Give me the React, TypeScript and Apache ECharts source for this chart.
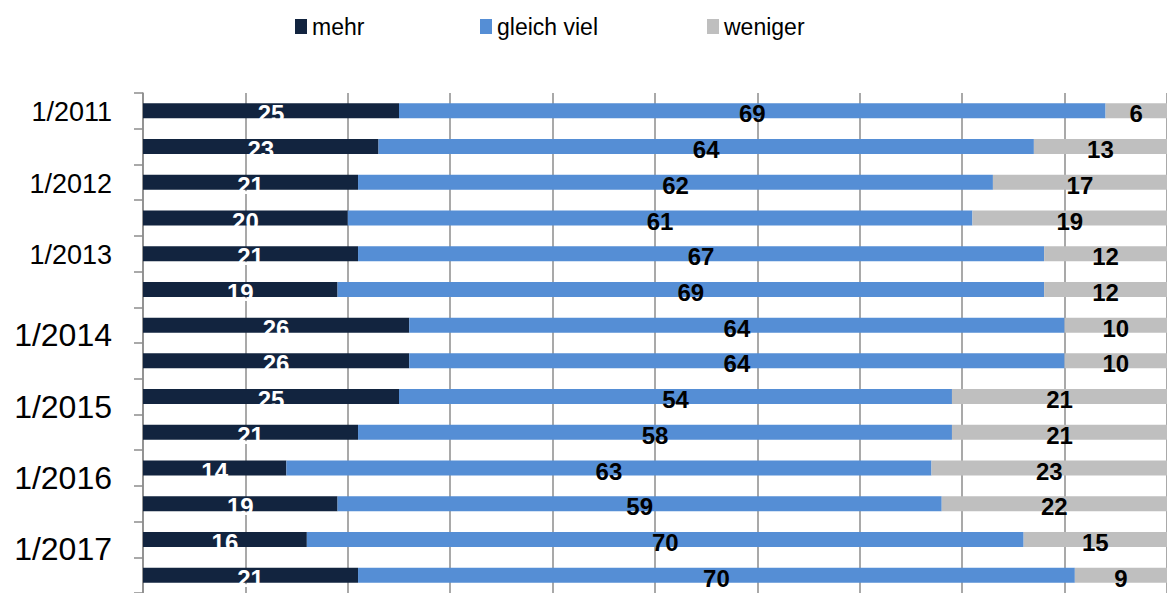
import React, { useEffect, useRef } from "react";
import * as echarts from "echarts";

const categories = [
  "1/2011", "", "1/2012", "", "1/2013", "", "1/2014", "",
  "1/2015", "", "1/2016", "", "1/2017", "",
];
const mehr = [25, 23, 21, 20, 21, 19, 26, 26, 25, 21, 14, 19, 16, 21];
const gleichViel = [69, 64, 62, 61, 67, 69, 64, 64, 54, 58, 63, 59, 70, 70];
const weniger = [6, 13, 17, 19, 12, 12, 10, 10, 21, 21, 23, 22, 15, 9];
const seriesNames = ["mehr", "gleich viel", "weniger"];
const colors = ["#12243F", "#558ED5", "#BFBFBF"];

const WIDE = "'Liberation Sans', Arial, sans-serif";

export default function App() {
  const ref = useRef<HTMLDivElement>(null);
  useEffect(() => {
    if (!ref.current) return;
    const chart = echarts.init(ref.current, undefined, { renderer: "svg" });
    const mkLabel = (color: string) => ({
      show: true,
      position: "inside",
      color,
      fontSize: 24,
      fontWeight: "bold",
      fontFamily: WIDE,
      offset: [0, 3],
    });
    const datas = [mehr, gleichViel, weniger];
    const legendLefts = [290, 475, 702];
    chart.setOption({
      animation: false,
      color: colors,
      legend: seriesNames.map((n, k) => ({
        left: legendLefts[k],
        top: 10,
        itemWidth: 12,
        itemHeight: 15,
        icon: "rect",
        textStyle: { fontSize: 23, fontFamily: WIDE, color: "#000" },
        data: [n],
      })),
      grid: { left: 143, right: 0, top: 93, height: 502, containLabel: false },
      xAxis: {
        type: "value",
        min: 0,
        max: 100,
        interval: 10,
        axisLabel: { show: false },
        axisLine: { show: false },
        axisTick: { show: false },
        splitLine: { show: true, lineStyle: { color: "#8C8C8C", width: 1.5 } },
      },
      yAxis: {
        type: "category",
        inverse: true,
        data: categories,
        axisLine: { show: true, lineStyle: { color: "#8C8C8C", width: 1.5 } },
        axisTick: { show: true, length: 9, lineStyle: { color: "#8C8C8C", width: 1.5 } },
        axisLabel: {
          interval: 0,
          margin: 31,
          color: "#000",
          formatter: (v: string, i: number) => (v ? (i >= 6 ? `{w|${v}}` : `{n|${v}}`) : ""),
          rich: {
            n: { fontSize: 27, fontFamily: WIDE, color: "#000", padding: [3, 0, 0, 0] },
            w: { fontSize: 32, fontFamily: WIDE, color: "#000", padding: [20, 0, 0, 0] },
          },
        },
      },
      series: seriesNames.map((name, k) => ({
        name,
        type: "bar",
        stack: "total",
        barWidth: 15,
        data: datas[k],
        itemStyle: { color: colors[k] },
        label: mkLabel(k === 0 ? "#fff" : "#000"),
      })),
    });
    return () => chart.dispose();
  }, []);
  return (
    <div
      ref={ref}
      style={{ position: "absolute", left: 0, top: 0, width: 1167, height: 593 }}
    />
  );
}
